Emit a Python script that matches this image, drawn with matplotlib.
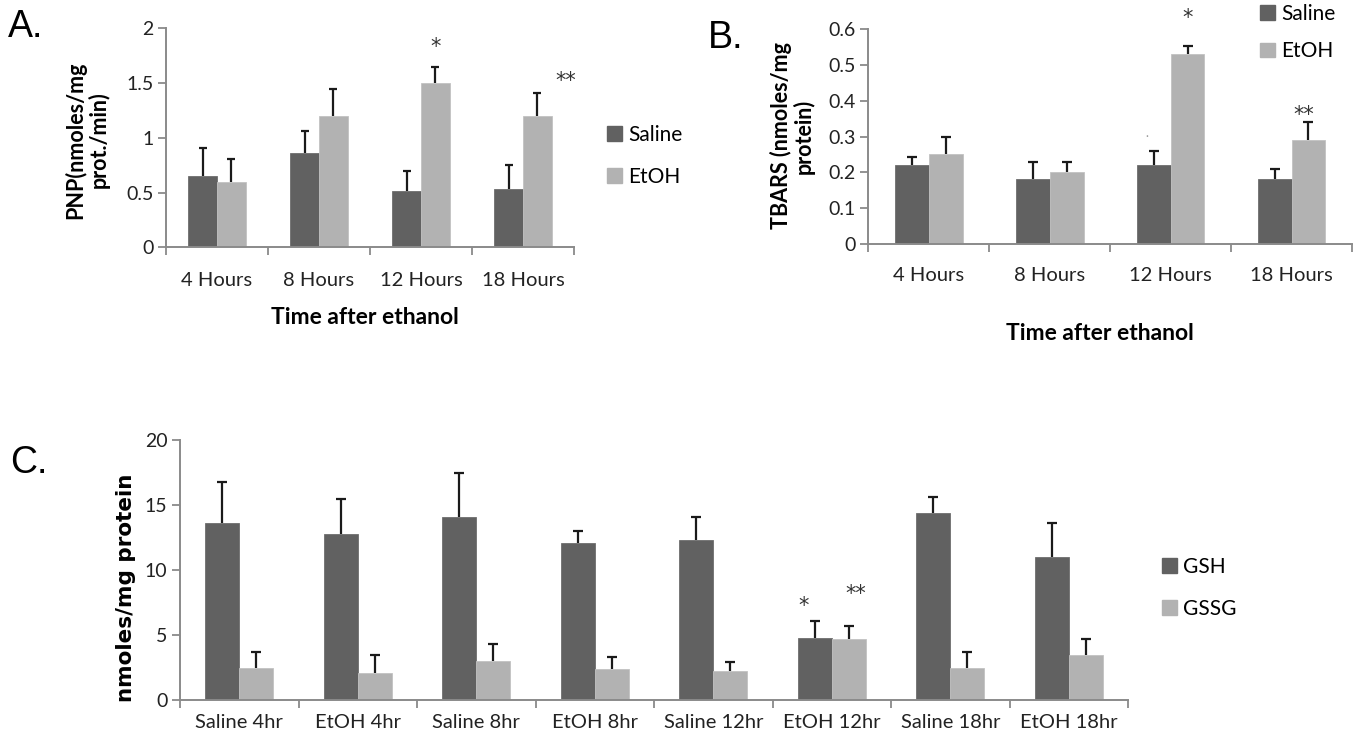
import numpy as np
import matplotlib
matplotlib.use('Agg')
import matplotlib.pyplot as plt
from matplotlib.patches import Patch

plt.rcParams['font.family'] = ['Lato', 'DejaVu Sans']

###########
# data

hours = ['4 Hours', '8 Hours', '12 Hours', '18 Hours']

pnp_saline = [0.65, 0.86, 0.51, 0.53]
pnp_saline_err = [0.26, 0.20, 0.19, 0.22]
pnp_etoh = [0.60, 1.20, 1.50, 1.20]
pnp_etoh_err = [0.21, 0.25, 0.15, 0.21]

tbars_saline = [0.22, 0.18, 0.22, 0.18]
tbars_saline_err = [0.022, 0.05, 0.04, 0.03]
tbars_etoh = [0.25, 0.20, 0.53, 0.29]
tbars_etoh_err = [0.05, 0.03, 0.022, 0.05]

groups = ['Saline 4hr', 'EtOH 4hr', 'Saline 8hr', 'EtOH 8hr',
          'Saline 12hr', 'EtOH 12hr', 'Saline 18hr', 'EtOH 18hr']
gsh = [13.6, 12.8, 14.1, 12.1, 12.3, 4.8, 14.4, 11.0]
gsh_err = [3.2, 2.7, 3.4, 0.9, 1.8, 1.3, 1.2, 2.6]
gssg = [2.5, 2.1, 3.0, 2.4, 2.2, 4.7, 2.5, 3.5]
gssg_err = [1.2, 1.4, 1.3, 0.9, 0.7, 1.0, 1.2, 1.2]

DARK = '#616161'
LIGHT = '#b2b2b2'
SPINE = '#8a8a8a'

#########


def up_err(ax, x, v, e, capsize):
    # only the upper whisker, like the excel original
    eb = ax.errorbar(x, v, yerr=[np.zeros(len(v)), e], fmt='none', ecolor='#1a1a1a',
                     elinewidth=1.6, capsize=capsize, capthick=1.6)
    eb[1][0].set_visible(False)


def bar_panel(ax, cats, v1, e1, v2, e2, width, ymax, ystep, capsize, lab_pad):
    x = np.arange(len(cats))
    ax.bar(x - width / 2, v1, width, color=DARK, edgecolor='#6e6e6e', linewidth=0.6)
    ax.bar(x + width / 2, v2, width, color=LIGHT, edgecolor='#c2c2c2', linewidth=0.6)
    up_err(ax, x - width / 2, v1, e1, capsize)
    up_err(ax, x + width / 2, v2, e2, capsize)
    ax.set_xlim(-0.5, len(cats) - 0.5)
    ax.set_ylim(0, ymax)
    ax.set_yticks(np.arange(0, ymax + ystep / 2, ystep))
    ax.set_xticks(np.arange(len(cats) + 1) - 0.5)
    ax.set_xticklabels([])
    ax.set_xticks(x, minor=True)
    ax.set_xticklabels(cats, minor=True)
    ax.tick_params(axis='x', which='major', length=6, width=1.3, color=SPINE, direction='out')
    ax.tick_params(axis='x', which='minor', length=0, pad=lab_pad, labelsize=14.5, labelcolor='#222222')
    ax.tick_params(axis='y', length=6, width=1.3, color=SPINE, pad=3, labelsize=14, labelcolor='#222222')
    for s in ['top', 'right']:
        ax.spines[s].set_visible(False)
    for s in ['left', 'bottom']:
        ax.spines[s].set_color(SPINE)
        ax.spines[s].set_linewidth(1.4)


def star(ax, x, y, s):
    # DejaVu asterisk sits high in the line box, so nudge it down a bit
    ax.annotate(s, (x, y), xytext=(0, -5), textcoords='offset points', ha='center',
                va='center', fontsize=15, color='#333333', family='DejaVu Sans',
                annotation_clip=False)


fig = plt.figure(figsize=(13.63, 7.47), dpi=100)
W, H = 1363.0, 747.0

def px_axes(l, t, r, b):
    return fig.add_axes([l / W, 1 - b / H, (r - l) / W, (b - t) / H])

# panel A
axA = px_axes(166, 28.3, 574, 247.3)
bar_panel(axA, hours, pnp_saline, pnp_saline_err, pnp_etoh, pnp_etoh_err,
          0.284, 2, 0.5, 3.0, 18)
axA.set_yticklabels(['0', '0.5', '1', '1.5', '2'])
star(axA, 2.14, 1.89, '*')
star(axA, 3.42, 1.58, '**')

# panel B
axB = px_axes(868.3, 29.3, 1352, 243.7)
bar_panel(axB, hours, tbars_saline, tbars_saline_err, tbars_etoh, tbars_etoh_err,
          0.28, 0.6, 0.1, 3.3, 17)
axB.set_yticklabels(['0', '0.1', '0.2', '0.3', '0.4', '0.5', '0.6'])
star(axB, 2.14, 0.65, '*')
star(axB, 3.10, 0.38, '**')
axB.text(1.8, 0.30, '·', ha='center', va='center', fontsize=8, color='#999999')

# panel C
axC = px_axes(180, 440, 1128, 700)
bar_panel(axC, groups, gsh, gsh_err, gssg, gssg_err,
          0.287, 20, 5, 3.5, 10)
star(axC, 4.76, 7.77, '*')
star(axC, 5.2, 8.7, '**')

# legends
leg_kw = dict(frameon=False, fontsize=15, handlelength=0.7, handleheight=0.7,
              handletextpad=0.3, borderpad=0, borderaxespad=0, loc='center left')
fig.legend([Patch(color=DARK), Patch(color=LIGHT)], ['Saline', 'EtOH'],
           bbox_to_anchor=(607 / W, 1 - 156 / H), labelspacing=1.05, **leg_kw)
fig.legend([Patch(color=DARK), Patch(color=LIGHT)], ['Saline', 'EtOH'],
           bbox_to_anchor=(1260 / W, 1 - 32.5 / H), labelspacing=0.85, **leg_kw)
fig.legend([Patch(color=DARK), Patch(color=LIGHT)], ['GSH', 'GSSG'],
           bbox_to_anchor=(1162 / W, 1 - 588 / H), labelspacing=1.05, **leg_kw)

# axis titles
fig.text(87 / W, 1 - 140 / H, 'PNP(nmoles/mg\nprot./min)', rotation=90, ha='center',
         va='center', multialignment='center', fontsize=15.5, fontweight='bold',
         linespacing=1.05)
fig.text(792 / W, 1 - 136 / H, 'TBARS (nmoles/mg\nprotein)', rotation=90, ha='center',
         va='center', multialignment='center', fontsize=15.5, fontweight='bold',
         linespacing=1.05)
fig.text(126 / W, 1 - 588 / H, 'nmoles/mg protein', rotation=90, ha='center',
         va='center', fontsize=15.5, fontweight='bold', family='DejaVu Sans')
fig.text(365 / W, 1 - 318 / H, 'Time after ethanol', ha='center', va='center',
         fontsize=16.5, fontweight='bold')
fig.text(1100 / W, 1 - 333 / H, 'Time after ethanol', ha='center', va='center',
         fontsize=16.5, fontweight='bold')

# panel letters
for lbl, x, y in [('A.', 8, 27), ('B.', 708, 38), ('C.', 10, 463)]:
    fig.text(x / W, 1 - y / H, lbl, ha='left', va='center', fontsize=27,
             family=['Liberation Sans', 'DejaVu Sans'])

plt.savefig('out.png', dpi=100)
